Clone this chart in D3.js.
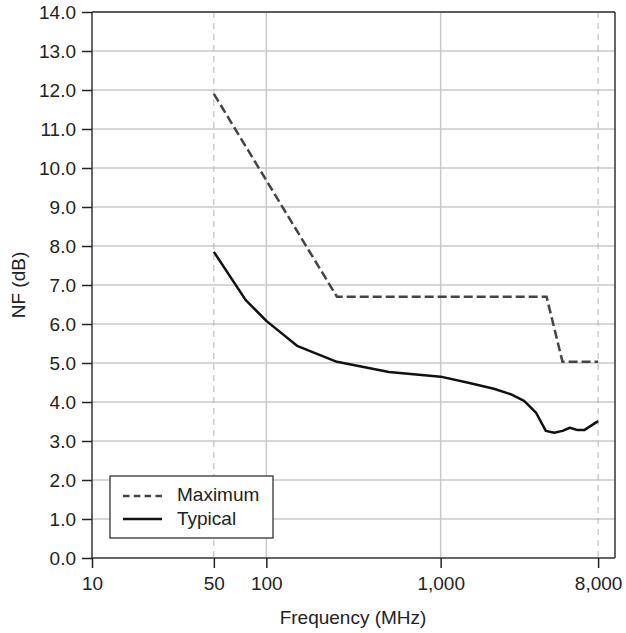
<!DOCTYPE html>
<html>
<head>
<meta charset="utf-8">
<script src="https://cdn.jsdelivr.net/npm/d3@7"></script>
<style>
  body { margin: 0; background: #fff; }
  svg text { font-family: "Liberation Sans", Arial, sans-serif; fill: #222; }
</style>
</head>
<body>
<div id="chart"></div>
<script>
// values
var maxFreq = [50, 254, 4050, 5000, 8000]
var maxNF = [11.9, 6.7, 6.7, 5.03, 5.03]

var typFreq = [50, 76, 100, 150, 254, 505, 1000, 1420, 2020, 2520, 3010, 3520, 4010, 4480, 5000, 5510, 6100, 6660, 8000]
var typNF = [7.85, 6.62, 6.08, 5.44, 5.03, 4.77, 4.65, 4.5, 4.34, 4.2, 4.03, 3.73, 3.26, 3.21, 3.26, 3.34, 3.28, 3.28, 3.51]

var xTicks = [10, 50, 100, 1000, 8000]
var xTickLabels = ['10', '50', '100', '1,000', '8,000']
var yTicks = d3.range(0, 14.5, 1)

var width = 626, height = 633
var margin = {top: 12, right: 11, bottom: 75, left: 92}
var w = width - margin.left - margin.right
var h = height - margin.top - margin.bottom
var fs = '19px'

var x = d3.scaleLog().domain([10, 10000]).range([0, w])
var y = d3.scaleLinear().domain([0, 14]).range([h, 0])

var svg = d3.select('#chart').append('svg')
  .attr('width', width)
  .attr('height', height)
var g = svg.append('g')
  .attr('transform', 'translate(' + margin.left + ',' + margin.top + ')')

// horizontal grid
g.selectAll('.hgrid').data(yTicks.slice(1)).enter().append('line')
  .attr('x1', 0).attr('x2', w)
  .attr('y1', d => y(d)).attr('y2', d => y(d))
  .attr('stroke', '#c8c8c8').attr('stroke-width', 1.5)

// vertical grid
var vgrid = [{f: 50, dash: true}, {f: 100, dash: false}, {f: 1000, dash: false}, {f: 8000, dash: true}]
g.selectAll('.vgrid').data(vgrid).enter().append('line')
  .attr('x1', d => x(d.f)).attr('x2', d => x(d.f))
  .attr('y1', 0).attr('y2', h)
  .attr('stroke', d => d.dash ? '#b4b4b4' : '#c8c8c8')
  .attr('stroke-width', d => d.dash ? 1 : 1.5)
  .attr('stroke-dasharray', d => d.dash ? '6,5' : null)

// frame
g.append('line').attr('x1', 0).attr('x2', w).attr('y1', 0).attr('y2', 0)
  .attr('stroke', '#333').attr('stroke-width', 1.5)
g.append('line').attr('x1', w).attr('x2', w).attr('y1', 0).attr('y2', h)
  .attr('stroke', '#333').attr('stroke-width', 1.5)

var xAxis = d3.axisBottom(x).tickValues(xTicks)
  .tickFormat((d, i) => xTickLabels[i]).tickSize(10).tickPadding(9)
var yAxis = d3.axisLeft(y).tickValues(yTicks)
  .tickFormat(d3.format('.1f')).tickSize(10).tickPadding(6)

var gx = g.append('g').attr('transform', 'translate(0,' + h + ')').call(xAxis)
var gy = g.append('g').call(yAxis)
;[gx, gy].forEach(function (a) {
  a.select('.domain').attr('stroke', '#333').attr('stroke-width', 1.5)
  a.selectAll('.tick line').attr('stroke', '#222').attr('stroke-width', 1.5)
  a.selectAll('.tick text').style('font-size', fs).attr('fill', '#222')
})
gy.select('.domain').attr('d', 'M0,' + h + 'V0')
gx.select('.domain').attr('d', 'M0,0H' + w)

// lines
var line = d3.line().x(d => x(d[0])).y(d => y(d[1]))
g.append('path')
  .datum(maxFreq.map((f, i) => [f, maxNF[i]]))
  .attr('d', line).attr('fill', 'none')
  .attr('stroke', '#444').attr('stroke-width', 2.5)
  .attr('stroke-dasharray', '9,4')
g.append('path')
  .datum(typFreq.map((f, i) => [f, typNF[i]]))
  .attr('d', line).attr('fill', 'none')
  .attr('stroke', '#111').attr('stroke-width', 2.5)
  .attr('stroke-linejoin', 'round')

// legend
var lg = svg.append('g').attr('transform', 'translate(110,476)')
lg.append('rect').attr('width', 163).attr('height', 62)
  .attr('fill', '#fff').attr('stroke', '#333').attr('stroke-width', 1.3)
lg.append('line').attr('x1', 13).attr('x2', 52).attr('y1', 20).attr('y2', 20)
  .attr('stroke', '#444').attr('stroke-width', 2.5).attr('stroke-dasharray', '6.5,4.3')
lg.append('line').attr('x1', 13).attr('x2', 52).attr('y1', 43).attr('y2', 43)
  .attr('stroke', '#111').attr('stroke-width', 2.5)
lg.append('text').attr('x', 67).attr('y', 25).style('font-size', fs).text('Maximum')
lg.append('text').attr('x', 67).attr('y', 49).style('font-size', fs).text('Typical')

// axis titles
svg.append('text')
  .attr('x', 353).attr('y', 624)
  .attr('text-anchor', 'middle').style('font-size', fs)
  .text('Frequency (MHz)')
svg.append('text')
  .attr('transform', 'translate(25,285) rotate(-90)')
  .attr('text-anchor', 'middle').style('font-size', fs)
  .text('NF (dB)')
</script>
</body>
</html>
